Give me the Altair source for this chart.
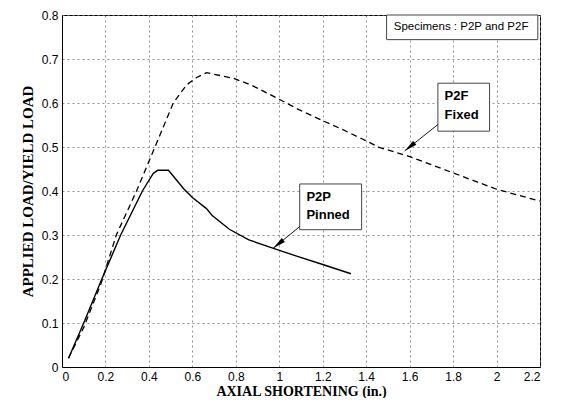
import altair as alt
import pandas as pd

# Pinned specimen P2P (solid)
pin_x = [0.03, 0.10, 0.18, 0.27, 0.37, 0.42, 0.44, 0.49, 0.56, 0.60, 0.665, 0.69, 0.77, 0.86, 0.97, 1.08, 1.20, 1.33]
pin_y = [0.02, 0.10, 0.196, 0.30, 0.40, 0.44, 0.447, 0.447, 0.405, 0.385, 0.36, 0.345, 0.313, 0.289, 0.270, 0.252, 0.233, 0.212]

# Fixed specimen P2F (dashed)
fix_x = [0.03, 0.10, 0.18, 0.25, 0.343, 0.428, 0.512, 0.573, 0.62, 0.665, 0.79, 0.87, 0.99, 1.09, 1.19, 1.29, 1.40, 1.46, 1.59, 1.79, 2.0, 2.2]
fix_y = [0.02, 0.09, 0.19, 0.30, 0.40, 0.50, 0.60, 0.641, 0.658, 0.669, 0.656, 0.641, 0.611, 0.585, 0.562, 0.540, 0.514, 0.499, 0.480, 0.443, 0.404, 0.377]

x_ticks = [0, 0.2, 0.4, 0.6, 0.8, 1.0, 1.2, 1.4, 1.6, 1.8, 2.0, 2.2]
y_ticks = [0, 0.1, 0.2, 0.3, 0.4, 0.5, 0.6, 0.7, 0.8]

# annotation boxes: x1, x2, y1, y2
box_x1 = [1.494, 1.73, 1.094]
box_x2 = [2.19, 1.968, 1.379]
box_y1 = [0.744, 0.536, 0.312]
box_y2 = [0.800, 0.645, 0.416]

# label texts
lab_text = ["Specimens : P2P and P2F", "P2F", "Fixed", "P2P", "Pinned"]
lab_x = [1.527, 1.761, 1.761, 1.125, 1.125]
lab_y = [0.773, 0.616, 0.573, 0.387, 0.346]
lab_bold = [False, True, True, True, True]

# arrows: tail -> tip
arr_x_tail = [1.73, 1.094]
arr_y_tail = [0.551, 0.319]
arr_x_tip = [1.577, 0.972]
arr_y_tip = [0.491, 0.270]
arr_angle = [231, 231]

pin = pd.DataFrame({"x": pin_x, "y": pin_y})
fix = pd.DataFrame({"x": fix_x, "y": fix_y})
boxes = pd.DataFrame({"x1": box_x1, "x2": box_x2, "y1": box_y1, "y2": box_y2})
labels = pd.DataFrame({"t": lab_text, "x": lab_x, "y": lab_y, "b": lab_bold})
arrows = pd.DataFrame({"xt": arr_x_tail, "yt": arr_y_tail, "xh": arr_x_tip, "yh": arr_y_tip, "a": arr_angle})

xs = alt.Scale(domain=[0, 2.2], nice=False, zero=False)
ys = alt.Scale(domain=[0, 0.8], nice=False, zero=False)

xax = alt.Axis(values=x_ticks, format="~g", title="AXIAL SHORTENING (in.)", ticks=False)
yax = alt.Axis(values=y_ticks, format="~g", title="APPLIED LOAD/YIELD LOAD", ticks=False,
               titleFontSize=15)

base_pin = alt.Chart(pin).mark_line(color="black", strokeWidth=1.4).encode(
    x=alt.X("x:Q", scale=xs, axis=xax),
    y=alt.Y("y:Q", scale=ys, axis=yax),
)
line_fix = alt.Chart(fix).mark_line(color="black", strokeWidth=1.3, strokeDash=[6, 4]).encode(
    x=alt.X("x:Q", scale=xs),
    y=alt.Y("y:Q", scale=ys),
)

rects = alt.Chart(boxes).mark_rect(fill="white", stroke="#444", strokeWidth=1).encode(
    x=alt.X("x1:Q", scale=xs), x2="x2:Q",
    y=alt.Y("y1:Q", scale=ys), y2="y2:Q",
)

txt_normal = alt.Chart(labels).transform_filter("!datum.b").mark_text(
    align="left", baseline="middle", font="Liberation Sans", fontSize=11.5, color="black"
).encode(x=alt.X("x:Q", scale=xs), y=alt.Y("y:Q", scale=ys), text="t:N")

txt_bold = alt.Chart(labels).transform_filter("datum.b").mark_text(
    align="left", baseline="middle", font="Liberation Sans", fontSize=13, fontWeight="bold", color="black"
).encode(x=alt.X("x:Q", scale=xs), y=alt.Y("y:Q", scale=ys), text="t:N")

arrow_lines = alt.Chart(arrows).mark_rule(color="black", strokeWidth=0.9).encode(
    x=alt.X("xt:Q", scale=xs), x2="xh:Q",
    y=alt.Y("yt:Q", scale=ys), y2="yh:Q",
)

arrow_heads = alt.Chart(arrows).mark_point(
    shape="M0,0 L0.38,2 L-0.38,2 Z", filled=True, color="black", opacity=1, size=170
).encode(
    x=alt.X("xh:Q", scale=xs), y=alt.Y("yh:Q", scale=ys), angle=alt.Angle("a:Q", scale=None)
)

chart = alt.layer(base_pin, line_fix, rects, txt_normal, txt_bold, arrow_lines, arrow_heads).properties(
    width=478, height=352,
    autosize=alt.AutoSizeParams(type="none"),
    padding={"left": 54, "top": 7, "right": 14, "bottom": 31},
).configure_view(stroke="black", strokeWidth=1).configure_axis(
    grid=True, gridColor="#777", gridDash=[2, 3], gridWidth=0.8,
    domainColor="black", domainWidth=1,
    labelFont="Liberation Sans", labelFontSize=12, labelColor="black",
    titleFont="Liberation Serif", titleFontWeight="bold", titleFontSize=14, titleColor="black",
    labelPadding=4,
).configure_axisY(titlePadding=6).configure_axisX(titlePadding=2)

chart.save("out.html", embed_options={"renderer": "svg", "actions": False})
